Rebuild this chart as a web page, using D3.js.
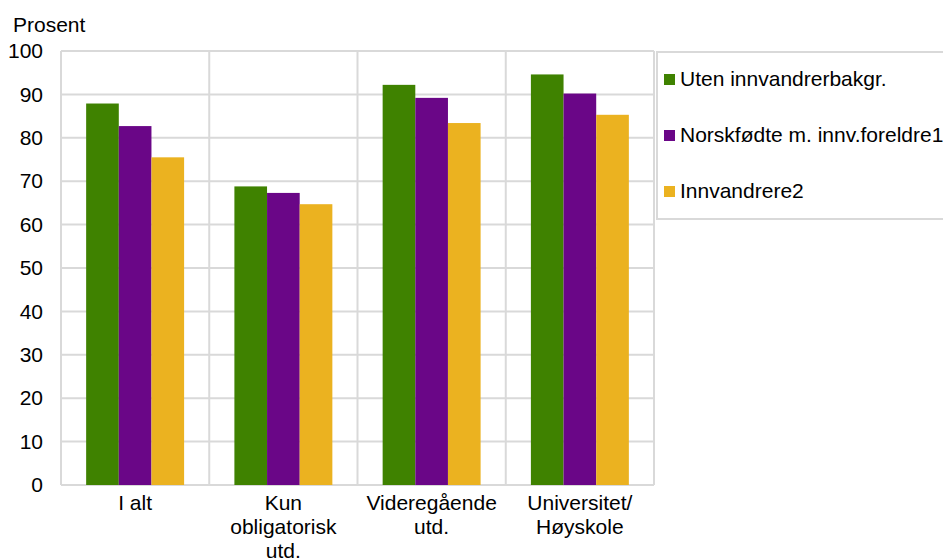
<!DOCTYPE html>
<html><head><meta charset="utf-8">
<script src="https://cdn.jsdelivr.net/npm/d3@7"></script>
<style>body{margin:0;background:#fff}svg{display:block}text{font-family:"Liberation Sans",Arial,sans-serif;fill:#000}</style>
</head><body>
<svg id="c" width="943" height="558"></svg>
<script>
const categories = [["I alt"],["Kun","obligatorisk","utd."],["Videregående","utd."],["Universitet/","Høyskole"]];
const seriesNames = ["Uten innvandrerbakgr.","Norskfødte m. innv.foreldre1","Innvandrere2"];
const seriesColors = ["#3f8200","#6a0687","#ebb220"];
const uten = [87.9, 68.8, 92.2, 94.6];
const norskfodte = [82.7, 67.3, 89.2, 90.2];
const innvandrere = [75.5, 64.7, 83.4, 85.3];
const yTicks = [0,10,20,30,40,50,60,70,80,90,100];

const values = [uten, norskfodte, innvandrere];
const FS = "21px";
const svg = d3.select("#c");
const L=61, R=654, T=51, B=485;
const x = d3.scaleBand().domain(d3.range(categories.length)).range([L,R]).padding(0);
const y = d3.scaleLinear().domain([0,100]).range([B,T]);
const inner = d3.scaleBand().domain(d3.range(3)).range([0,x.bandwidth()]).paddingOuter(0.77).paddingInner(0);
const grid="#d9d9d9";
const g = svg.append("g");
g.selectAll("line.h").data(yTicks).join("line")
 .attr("x1",L).attr("x2",R).attr("y1",d=>y(d)).attr("y2",d=>y(d))
 .attr("stroke",grid).attr("stroke-width",2);
const vx = d3.range(categories.length+1).map(i=> i<categories.length ? x(i) : x(categories.length-1)+x.bandwidth());
g.selectAll("line.v").data(vx).join("line")
 .attr("x1",d=>d).attr("x2",d=>d).attr("y1",T).attr("y2",B)
 .attr("stroke",grid).attr("stroke-width",2);
values.forEach((arr,s)=>{
  g.selectAll("rect.s"+s).data(arr).join("rect")
   .attr("x",(d,i)=>x(i)+inner(s)).attr("width",inner.bandwidth())
   .attr("y",d=>y(d)).attr("height",d=>B-y(d)).attr("fill",seriesColors[s]);
});
const yAxis = d3.axisLeft(y).tickValues(yTicks).tickSize(0).tickPadding(18);
const ya = svg.append("g").attr("transform",`translate(${L},0)`).call(yAxis);
ya.select(".domain").remove();
ya.selectAll("text").style("font-size",FS).style("font-family","Liberation Sans, Arial, sans-serif").attr("fill","#000");
const xl = svg.append("g");
categories.forEach((lines,i)=>{
  const cx = x(i)+x.bandwidth()/2;
  const t = xl.append("text").attr("x",cx).attr("y",510).attr("text-anchor","middle").style("font-size",FS);
  lines.forEach((ln,j)=>t.append("tspan").attr("x",cx).attr("dy",j===0?0:24).text(ln));
});
svg.append("text").attr("x",13).attr("y",32).style("font-size",FS).text("Prosent");
svg.append("rect").attr("x",657).attr("y",52).attr("width",300).attr("height",167).attr("fill","#fff").attr("stroke",grid).attr("stroke-width",2);
const ly=[86,142,198];
seriesNames.forEach((n,i)=>{
  svg.append("rect").attr("x",664).attr("y",ly[i]-12).attr("width",11).attr("height",11).attr("fill",seriesColors[i]);
  svg.append("text").attr("x",680).attr("y",ly[i]).style("font-size",FS).text(n);
});
</script>
</body></html>
